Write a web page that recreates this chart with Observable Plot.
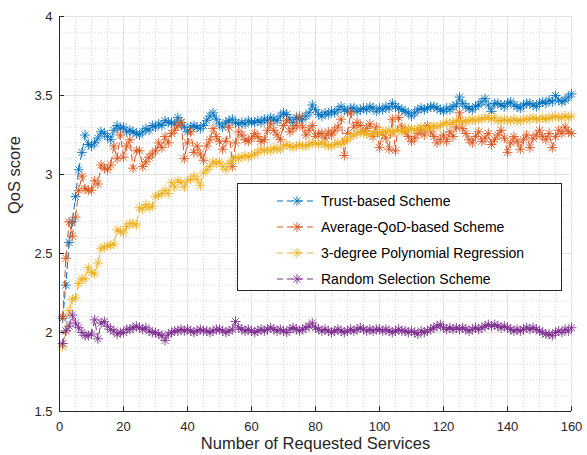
<!DOCTYPE html>
<html>
<head>
<meta charset="utf-8">
<script src="https://cdn.jsdelivr.net/npm/d3@7"></script>
<script src="https://cdn.jsdelivr.net/npm/@observablehq/plot@0.6"></script>
<style>
  html, body { margin: 0; padding: 0; background: #fff; }
  #wrap { position: relative; width: 587px; height: 455px; font-family: "Liberation Sans", Arial, Helvetica, sans-serif; }
  #legend { position: absolute; left: 237px; top: 183px; width: 325px; height: 108px; background: #fff; border: 1px solid #262626; box-sizing: border-box; }
  .row { position: absolute; left: 0; height: 20px; display: flex; align-items: center; }
  .row span { font-size: 14px; color: #000; margin-left: 4px; white-space: nowrap; }
  .row svg { margin-left: 39px; }
</style>
</head>
<body>
<div id="wrap"><div id="legend"></div></div>
<script>
const seriesNames = ["Trust-based Scheme", "Average-QoD-based Scheme", "3-degree Polynomial Regression", "Random Selection Scheme"];
const seriesColors = ["#0072BD", "#D95319", "#EDB120", "#7E2F8E"];

const trust = [2.09,2.30,2.57,2.70,2.86,3.03,3.14,3.25,3.19,3.18,3.20,3.23,3.27,3.26,3.24,3.22,3.28,3.31,3.29,3.30,
3.27,3.28,3.27,3.26,3.25,3.27,3.29,3.28,3.31,3.30,3.32,3.31,3.34,3.33,3.33,3.32,3.36,3.33,3.30,3.27,
3.30,3.31,3.30,3.29,3.31,3.34,3.37,3.39,3.35,3.32,3.30,3.33,3.34,3.35,3.33,3.32,3.33,3.32,3.34,3.33,
3.33,3.34,3.33,3.35,3.34,3.36,3.35,3.34,3.37,3.39,3.38,3.35,3.33,3.36,3.35,3.35,3.37,3.39,3.44,3.41,
3.38,3.37,3.39,3.38,3.40,3.39,3.41,3.43,3.41,3.40,3.42,3.42,3.40,3.41,3.42,3.41,3.43,3.42,3.40,3.42,
3.41,3.43,3.42,3.45,3.43,3.42,3.41,3.40,3.39,3.37,3.39,3.41,3.42,3.41,3.42,3.43,3.43,3.42,3.41,3.40,
3.42,3.41,3.43,3.44,3.49,3.45,3.43,3.42,3.41,3.43,3.44,3.46,3.48,3.44,3.40,3.45,3.45,3.44,3.43,3.45,
3.46,3.44,3.43,3.42,3.44,3.45,3.45,3.44,3.43,3.45,3.46,3.45,3.47,3.46,3.50,3.47,3.46,3.47,3.49,3.51];

const averageQoD = [2.10,2.47,2.70,2.61,2.73,2.90,2.99,2.91,2.90,2.90,2.96,2.94,3.06,3.04,3.03,3.06,3.18,3.10,3.25,3.11,
3.18,3.22,3.04,3.15,3.15,3.05,3.08,3.11,3.13,3.15,3.20,3.17,3.24,3.20,3.26,3.28,3.31,3.33,3.10,3.20,
3.27,3.14,3.18,3.13,3.09,3.18,3.22,3.29,3.24,3.21,3.16,3.21,3.30,3.05,3.20,3.27,3.25,3.22,3.21,3.23,
3.26,3.24,3.21,3.22,3.28,3.32,3.28,3.25,3.22,3.31,3.34,3.27,3.29,3.31,3.37,3.30,3.25,3.28,3.31,3.24,
3.26,3.26,3.23,3.27,3.25,3.28,3.30,3.35,3.12,3.26,3.39,3.30,3.33,3.31,3.27,3.29,3.32,3.24,3.30,3.17,
3.26,3.23,3.16,3.35,3.15,3.36,3.30,3.27,3.24,3.21,3.23,3.26,3.28,3.25,3.31,3.27,3.24,3.20,3.22,3.25,
3.21,3.27,3.24,3.30,3.39,3.29,3.26,3.22,3.20,3.24,3.27,3.21,3.23,3.26,3.19,3.22,3.25,3.28,3.23,3.14,
3.20,3.24,3.21,3.16,3.22,3.25,3.17,3.23,3.25,3.28,3.24,3.22,3.26,3.17,3.24,3.28,3.26,3.30,3.27,3.26];

const polynomial = [1.91,2.01,2.14,2.21,2.22,2.31,2.34,2.34,2.41,2.38,2.37,2.44,2.53,2.54,2.55,2.55,2.56,2.65,2.64,2.63,
2.67,2.69,2.69,2.68,2.79,2.78,2.81,2.79,2.80,2.86,2.87,2.88,2.90,2.88,2.95,2.92,2.96,2.95,2.92,2.96,
2.97,2.99,2.97,2.93,3.01,3.03,3.05,3.08,3.07,3.08,3.05,3.03,3.07,3.09,3.11,3.10,3.11,3.12,3.11,3.12,
3.13,3.14,3.16,3.15,3.16,3.15,3.17,3.16,3.16,3.18,3.19,3.18,3.17,3.18,3.19,3.18,3.18,3.19,3.20,3.20,
3.19,3.20,3.19,3.18,3.18,3.19,3.20,3.19,3.21,3.22,3.24,3.25,3.26,3.27,3.26,3.26,3.25,3.26,3.27,3.26,
3.27,3.27,3.28,3.27,3.28,3.28,3.27,3.28,3.29,3.29,3.28,3.29,3.30,3.29,3.29,3.30,3.31,3.30,3.31,3.32,
3.33,3.32,3.33,3.34,3.34,3.33,3.34,3.34,3.35,3.34,3.35,3.35,3.36,3.36,3.35,3.36,3.34,3.34,3.35,3.34,
3.34,3.35,3.34,3.34,3.35,3.35,3.35,3.36,3.35,3.35,3.36,3.35,3.36,3.36,3.37,3.36,3.36,3.37,3.36,3.37];

const randomSel = [1.93,2.01,2.04,2.11,2.06,2.03,2.00,1.98,1.98,1.99,2.08,1.96,2.06,2.07,2.04,2.02,2.01,1.99,2.00,2.00,
2.02,2.02,2.03,2.04,2.03,2.02,2.03,2.01,2.00,2.00,1.99,1.98,1.95,1.99,2.00,2.01,2.01,2.02,2.01,2.02,
2.01,2.00,2.01,2.02,2.01,2.01,2.00,2.01,2.02,2.02,2.01,2.00,2.01,2.02,2.07,2.03,2.02,2.01,2.02,2.01,
2.00,2.01,2.02,2.01,2.02,2.03,2.02,2.01,2.02,2.01,2.00,2.02,2.03,2.02,2.01,2.02,2.03,2.04,2.06,2.03,
2.02,2.01,2.02,2.01,2.00,2.01,2.02,2.01,2.00,2.01,2.02,2.01,2.02,2.03,2.02,2.01,2.02,2.01,2.02,2.02,
2.01,2.02,2.01,2.00,2.01,2.02,2.01,2.01,2.00,2.01,2.00,1.99,2.01,2.00,2.01,2.02,2.03,2.04,2.05,2.03,
2.02,2.03,2.02,2.03,2.02,2.03,2.02,2.01,2.02,2.03,2.02,2.03,2.04,2.05,2.04,2.05,2.04,2.03,2.04,2.03,
2.02,2.01,2.02,2.01,2.02,2.03,2.02,2.03,2.02,2.01,2.00,1.99,1.99,1.98,2.00,2.01,2.00,2.02,2.01,2.03];

const xTicks = [0, 20, 40, 60, 80, 100, 120, 140, 160];
const xTickLabels = ["0", "20", "40", "60", "80", "100", "120", "140", "160"];
const yTicks = [1.5, 2, 2.5, 3, 3.5, 4];
const yTickLabels = ["1.5", "2", "2.5", "3", "3.5", "4"];
const xMinor = [5,10,15,25,30,35,45,50,55,65,70,75,85,90,95,105,110,115,125,130,135,145,150,155];
const yMinor = [1.6,1.7,1.8,1.9,2.1,2.2,2.3,2.4,2.6,2.7,2.8,2.9,3.1,3.2,3.3,3.4,3.6,3.7,3.8,3.9];
const xLabel = "Number of Requested Services";
const yLabel = "QoS score";

const allValues = [trust, averageQoD, polynomial, randomSel];
const series = allValues.map((vals, k) => vals.map((v, i) => ({x: i + 1, y: v, s: seriesNames[k]})));

const asterisk = {
  draw(context, size) {
    const r = Math.sqrt(size / Math.PI);
    const d = r * Math.SQRT1_2;
    context.moveTo(-r, 0); context.lineTo(r, 0);
    context.moveTo(0, -r); context.lineTo(0, r);
    context.moveTo(-d, -d); context.lineTo(d, d);
    context.moveTo(-d, d); context.lineTo(d, -d);
  }
};

const dataMarks = [];
series.forEach((data, k) => {
  dataMarks.push(Plot.line(data, {x: "x", y: "y", stroke: seriesColors[k], strokeWidth: 1, strokeDasharray: "6,4"}));
  dataMarks.push(Plot.dot(data, {x: "x", y: "y", stroke: seriesColors[k], fill: "none", symbol: asterisk, r: 5, strokeWidth: 0.9}));
});

const chart = Plot.plot({
  width: 587,
  height: 455,
  marginLeft: 59,
  marginRight: 16,
  marginTop: 16,
  marginBottom: 44,
  x: {domain: [0, 160]},
  y: {domain: [1.5, 4]},
  style: {fontFamily: '"Liberation Sans", Arial, Helvetica, sans-serif', fontSize: "13px", color: "#262626", background: "#fff", overflow: "visible"},
  marks: [
    Plot.ruleX(xMinor, {stroke: "#c8c8c8", strokeWidth: 0.8, strokeDasharray: "1,2"}),
    Plot.ruleY(yMinor, {stroke: "#c8c8c8", strokeWidth: 0.8, strokeDasharray: "1,2"}),
    Plot.ruleX(xTicks, {stroke: "#e2e2e2", strokeWidth: 1}),
    Plot.ruleY(yTicks, {stroke: "#e2e2e2", strokeWidth: 1}),
    ...dataMarks,
    Plot.ruleX([0], {stroke: "#262626", strokeWidth: 1}),
    Plot.ruleY([1.5], {stroke: "#262626", strokeWidth: 1}),
    Plot.tickX(xTicks, {x: d => d, stroke: "#262626", insetTop: 390}),
    Plot.tickY(yTicks, {y: d => d, stroke: "#262626", insetRight: 507}),
    Plot.axisX({ticks: xTicks, tickSize: 0, tickPadding: 10, tickFormat: (d, i) => xTickLabels[i], label: null, fill: "#262626"}),
    Plot.axisY({ticks: yTicks, tickSize: 0, tickPadding: 7, tickFormat: (d, i) => yTickLabels[i], label: null, fill: "#262626"}),
    Plot.text([xLabel], {frameAnchor: "bottom", dy: 37, text: d => d, fontSize: 16.5, fill: "#262626"}),
    Plot.text([yLabel], {frameAnchor: "left", dx: -45, rotate: -90, text: d => d, fontSize: 16.5, fill: "#262626"})
  ]
});

const wrap = document.getElementById("wrap");
wrap.insertBefore(chart, wrap.firstChild);

const legend = document.getElementById("legend");
const rowTops = [7, 33, 59, 85];
seriesNames.forEach((name, k) => {
  const row = document.createElement("div");
  row.className = "row";
  row.style.top = rowTops[k] + "px";
  const c = seriesColors[k];
  row.innerHTML = `<svg width="40" height="14" viewBox="0 0 40 14">
    <line x1="0" y1="7" x2="40" y2="7" stroke="${c}" stroke-width="1" stroke-dasharray="6,4"/>
    <g stroke="${c}" stroke-width="0.9" transform="translate(20,7)">
      <line x1="-5" y1="0" x2="5" y2="0"/><line x1="0" y1="-5" x2="0" y2="5"/>
      <line x1="-3.5" y1="-3.5" x2="3.5" y2="3.5"/><line x1="-3.5" y1="3.5" x2="3.5" y2="-3.5"/>
    </g></svg><span>${name}</span>`;
  legend.appendChild(row);
});
</script>
</body>
</html>
